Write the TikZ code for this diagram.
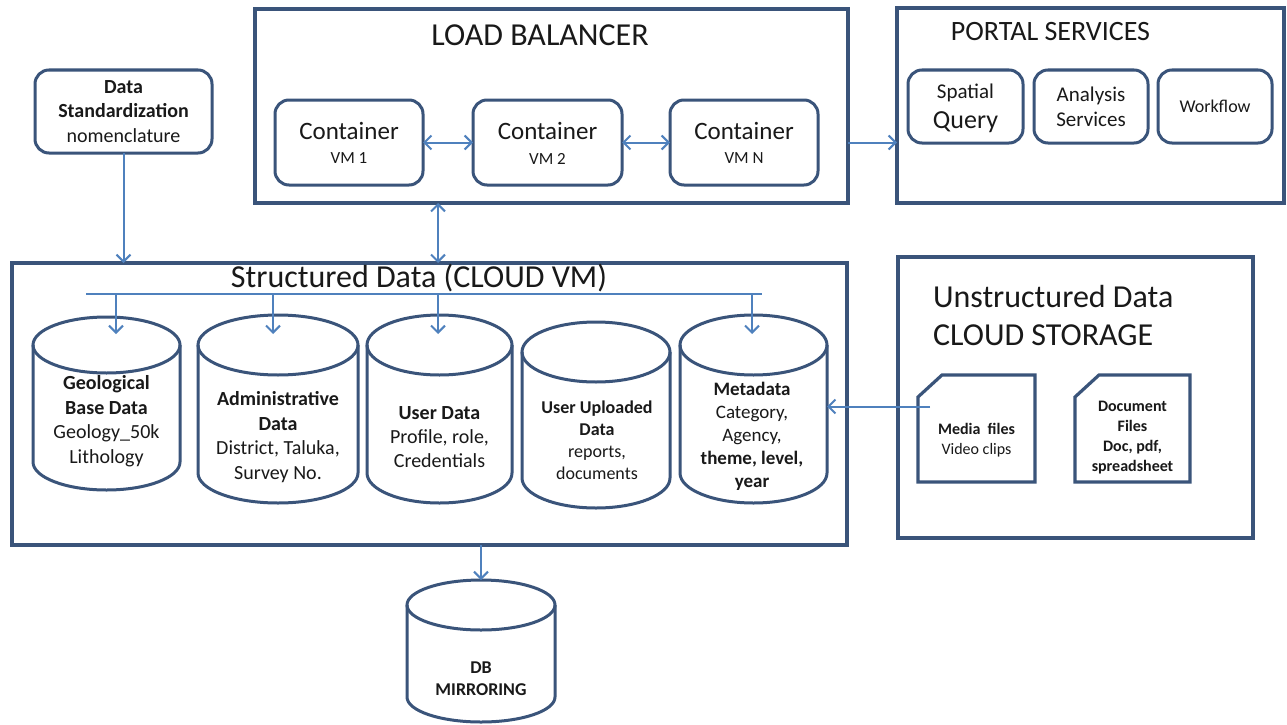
\documentclass[tikz,border=0pt]{standalone}
\usepackage{fontspec}
\setmainfont{Carlito}
\usetikzlibrary{arrows.meta,calc}
\definecolor{boxcol}{RGB}{58,84,122}
\definecolor{arrcol}{RGB}{79,129,189}
\definecolor{txtcol}{RGB}{25,25,25}
\newcommand\fs[1]{\fontsize{#1}{#1}\selectfont}
\newcommand\dbcyl[6]{%
  \node[cylarea, minimum width={2*#5pt}, minimum height={(#4-#3)*1pt}] (#1) at (#2,{(#3+#4)/2}) {};
  \draw[cylline] (#2-#5,#3+#6) -- (#2-#5,#4-#6) arc[start angle=180,end angle=0,x radius=#5,y radius=#6] -- (#2+#5,#3+#6);
  \draw[cylline] (#2,#3+#6) ellipse[x radius=#5,y radius=#6];
}
\begin{document}
\begin{tikzpicture}[x=1pt,y=-1pt,
  every node/.style={text=txtcol, inner sep=0pt, outer sep=0pt},
  bigbox/.style={draw=boxcol, line width=3.2pt, rectangle},
  rbox/.style={draw=boxcol, line width=3pt, rounded corners=14pt, rectangle, align=center},
  cylarea/.style={draw=none, rectangle},
  cylline/.style={draw=boxcol, line width=3pt},
  docline/.style={draw=boxcol, line width=3.2pt, line join=miter},
  arr/.style={draw=arrcol, line width=2pt, -{Straight Barb[length=7pt,width=14pt,line width=2pt]}},
  darr/.style={draw=arrcol, line width=2pt, {Straight Barb[length=7pt,width=14pt,line width=2pt]}-{Straight Barb[length=7pt,width=14pt,line width=2pt]}},
  plain/.style={draw=arrcol, line width=2pt},
  ttl/.style={font=\fs{32}},
  cmain/.style={font=\fs{25}},
  csub/.style={font=\fs{17}},
  cyltxt/.style={align=center, font=\fontsize{20}{24.5}\selectfont},
]
\useasboundingbox[fill=white] (0,0) rectangle (1287,725);

% ---------- Data standardization ----------
\node[rbox, minimum width=177pt, minimum height=83pt, font=\fontsize{20}{24.5}\selectfont] (std) at (123.5,111.5)
  {\textbf{Data}\\\textbf{Standardization}\\nomenclature};

% ---------- Load balancer ----------
\node[bigbox, minimum width=593pt, minimum height=194pt] (lb) at (551.5,106) {};
\node[ttl] (lbt) at (540,35) {LOAD BALANCER};
\node[rbox, minimum width=148pt, minimum height=85pt] (vm1) at (349,142.5) {};
\node[rbox, minimum width=149pt, minimum height=85pt] (vm2) at (547.5,142.5) {};
\node[rbox, minimum width=148pt, minimum height=85pt] (vm3) at (744,142.5) {};
\node[cmain] (vm1a) at ($(vm1.center)+(0,-12)$) {Container};
\node[csub]  (vm1b) at ($(vm1.center)+(0,16)$) {VM 1};
\node[cmain] (vm2a) at ($(vm2.center)+(0,-12)$) {Container};
\node[csub]  (vm2b) at ($(vm2.center)+(0,16)$) {VM 2};
\node[cmain] (vm3a) at ($(vm3.center)+(0,-12)$) {Container};
\node[csub]  (vm3b) at ($(vm3.center)+(0,16)$) {VM N};
\draw[darr] (vm1.east) -- (vm2.west);
\draw[darr] (vm2.east) -- (vm3.west);

% ---------- Portal services ----------
\node[bigbox, minimum width=387pt, minimum height=195pt] (portal) at (1090.5,105.5) {};
\node[font=\fs{28}] (portalt) at (1050.5,32) {PORTAL SERVICES};
\node[rbox, minimum width=115pt, minimum height=73pt] (spq) at (965.5,106.5) {};
\node[font=\fs{21}] (spqa) at ($(spq.center)+(0,-14)$) {Spatial};
\node[font=\fs{26}] (spqb) at ($(spq.center)+(0,16)$) {Query};
\node[rbox, minimum width=114pt, minimum height=73pt, font=\fontsize{21}{25}\selectfont] (ans) at (1091,106.5)
  {Analysis\\Services};
\node[rbox, minimum width=114pt, minimum height=73pt, font=\fs{18}] (wfl) at (1215,106.5) {Workflow};
\draw[arr] (vm3.east -| lb.east) -- (vm3.east -| portal.west);

% ---------- Structured data ----------
\node[bigbox, minimum width=835pt, minimum height=282pt] (sd) at (429.5,404) {};
\node[ttl] (sdt) at (419,278) {Structured Data (CLOUD VM)};
\draw[arr] (std.south) -- (std.south |- sd.north);
\draw[darr] ([xshift=-113.5pt]lb.south) -- ([xshift=-113.5pt]lb.south |- sd.north);

\dbcyl{geo}{106.5}{317}{490}{73.5}{28}
\dbcyl{adm}{278}{315}{503}{80}{30}
\dbcyl{usr}{439.5}{315}{503}{72.5}{30}
\dbcyl{upl}{596}{322}{508}{74}{30}
\dbcyl{meta}{753.5}{315}{503}{73.5}{30}

\node[cyltxt] (geot) at (106.5,421) {\textbf{Geological}\\\textbf{Base Data}\\Geology\_50k\\Lithology};
\node[cyltxt] (admt) at (278,437) {\textbf{Administrative}\\\textbf{Data}\\District, Taluka,\\Survey No.};
\node[cyltxt, font=\fontsize{20}{24}\selectfont] (usrt) at (439.5,437) {\textbf{User Data}\\Profile, role,\\Credentials};
\node[cyltxt, font=\fontsize{18}{22}\selectfont] (uplt) at (597,440) {\textbf{User Uploaded}\\\textbf{Data}\\reports,\\documents};
\node[cyltxt, font=\fontsize{19}{23}\selectfont] (metat) at (752,436) {\textbf{Metadata}\\Category,\\Agency,\\\textbf{theme, level,}\\\textbf{year}};

\coordinate (busL) at (86,294);
\coordinate (busR) at (762,294);
\draw[plain] (busL) -- (busR);
\coordinate (b1) at (116,294);
\coordinate (b2) at (273,294);
\coordinate (b3) at (438,294);
\coordinate (b4) at (752,294);
\draw[arr] (b1) -- (b1 |- 0,334);
\draw[arr] (b2) -- (b2 |- 0,334);
\draw[arr] (b3) -- (b3 |- 0,334);
\draw[arr] (b4) -- (b4 |- 0,334);

% ---------- DB mirroring ----------
\dbcyl{db}{481}{580}{722}{74}{25}
\node[align=center, font=\fontsize{18}{22}\selectfont] (dbt) at (481,679) {\textbf{DB}\\\textbf{MIRRORING}};
\draw[arr] (sd.south -| db.north) -- (db.north);

% ---------- Unstructured data ----------
\node[bigbox, minimum width=355pt, minimum height=281pt] (ud) at (1075.5,397.5) {};
\node[anchor=west, align=left, font=\fontsize{32}{38}\selectfont] (udt) at (933,316) {Unstructured Data\\CLOUD STORAGE};

\node[cylarea, minimum width=117pt, minimum height=107pt] (media) at (976.5,428.5) {};
\draw[docline] ($(media.north west)+(0,22)$) -- ($(media.north west)+(24,0)$) -- (media.north east) -- (media.south east) -- (media.south west) -- cycle;
\node[align=center, font=\fontsize{16}{20}\selectfont] (mediat) at (976.5,440) {\textbf{Media\ \ files}\\Video clips};

\node[cylarea, minimum width=115pt, minimum height=107pt] (doc) at (1132.5,428.5) {};
\draw[docline] ($(doc.north west)+(0,22)$) -- ($(doc.north west)+(24,0)$) -- (doc.north east) -- (doc.south east) -- (doc.south west) -- cycle;
\node[align=center, font=\fontsize{16}{20}\selectfont] (doct) at (1132.5,438) {\textbf{Document}\\\textbf{Files}\\\textbf{Doc, pdf,}\\\textbf{spreadsheet}};

\coordinate (mstart) at ($(media.west)+(12,-22)$);
\draw[arr] (mstart) -- (mstart -| meta.east);
\end{tikzpicture}
\end{document}
